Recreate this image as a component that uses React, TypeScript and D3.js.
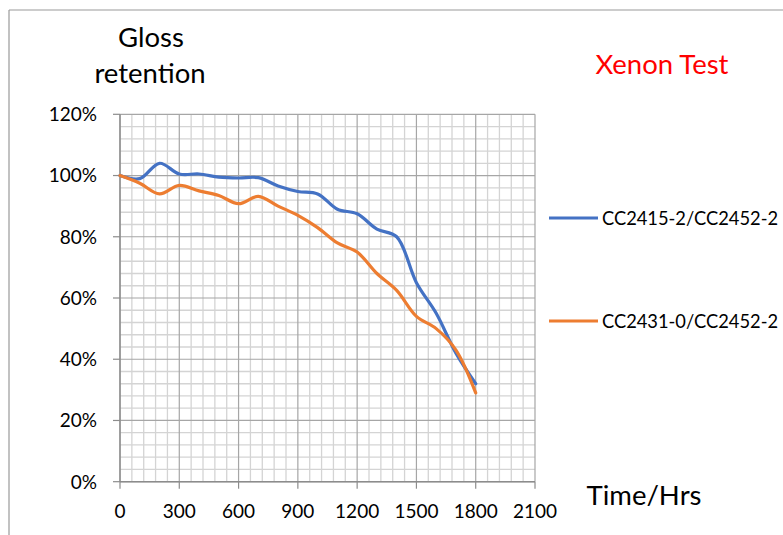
import React from "react";
import * as d3 from "d3";

const hours = [0, 100, 200, 300, 400, 500, 600, 700, 800, 900, 1000, 1100, 1200, 1300, 1400, 1500, 1600, 1700, 1800];
const seriesA = [100, 99, 104, 100.5, 100.5, 99.5, 99.2, 99.3, 96.6, 94.8, 94, 89, 87.5, 82.5, 80, 65, 55, 42, 32];
const seriesB = [100, 97.5, 94, 96.8, 95, 93.5, 90.8, 93.2, 90, 87, 83, 78, 75, 68, 62.5, 54, 50, 43, 29];
const seriesNames = ["CC2415-2/CC2452-2", "CC2431-0/CC2452-2"];
const seriesColors = ["#4472C4", "#ED7D31"];
const xTicks = [0, 300, 600, 900, 1200, 1500, 1800, 2100];
const yTicks = [0, 20, 40, 60, 80, 100, 120];

const FONT = "Lato, 'Open Sans', sans-serif";

export default function App() {
  const W = 783, H = 535;
  const x = d3.scaleLinear().domain([0, 2100]).range([120, 535]);
  const y = d3.scaleLinear().domain([0, 120]).range([481.7, 114.3]);
  const line = d3
    .line<number>()
    .x((_, i) => x(hours[i]))
    .y((d) => y(d))
    .curve(d3.curveCatmullRom.alpha(0.5));

  const minorX = d3.range(0, 2101, 60).filter((v) => v % 300 !== 0);
  const minorY = d3.range(0, 121, 4).filter((v) => v % 20 !== 0);

  return (
    <div style={{ position: "fixed", left: 0, top: 0 }}>
      <svg width={W} height={H} style={{ display: "block", background: "#fff" }}>
        <line x1={9} y1={10} x2={W} y2={10} stroke="#999" strokeWidth={1.2} />
        <line x1={9} y1={10} x2={9} y2={H} stroke="#999" strokeWidth={1.2} />

        {minorX.map((v) => (
          <line key={"mx" + v} x1={x(v)} x2={x(v)} y1={y(120)} y2={y(0)} stroke="#d4d4d4" strokeWidth={1.3} />
        ))}
        {minorY.map((v) => (
          <line key={"my" + v} x1={x(0)} x2={x(2100)} y1={y(v)} y2={y(v)} stroke="#d4d4d4" strokeWidth={1.3} />
        ))}
        {xTicks.map((v) => (
          <line key={"Mx" + v} x1={x(v)} x2={x(v)} y1={y(120)} y2={y(0)} stroke="#a6a6a6" strokeWidth={1.2} />
        ))}
        {yTicks.map((v) => (
          <line key={"My" + v} x1={x(0)} x2={x(2100)} y1={y(v)} y2={y(v)} stroke="#a6a6a6" strokeWidth={1.2} />
        ))}
        <line x1={x(0)} x2={x(2100)} y1={y(0)} y2={y(0)} stroke="#8c8c8c" strokeWidth={1.4} />
        <line x1={x(0)} x2={x(0)} y1={y(120)} y2={y(0)} stroke="#8c8c8c" strokeWidth={1.4} />

        {yTicks.map((v) => (
          <g key={"yt" + v}>
            <line x1={x(0) - 7} x2={x(0)} y1={y(v)} y2={y(v)} stroke="#8c8c8c" strokeWidth={1.2} />
            <text x={97} y={y(v)} dy="0.36em" textAnchor="end" fontFamily={FONT} fontSize={19} fill="#000">
              {v}%
            </text>
          </g>
        ))}
        {xTicks.map((v) => (
          <g key={"xt" + v}>
            <line x1={x(v)} x2={x(v)} y1={y(0)} y2={y(0) + 7} stroke="#8c8c8c" strokeWidth={1.2} />
            <text x={x(v)} y={518} textAnchor="middle" fontFamily={FONT} fontSize={19} fill="#000">
              {v}
            </text>
          </g>
        ))}

        {[seriesA, seriesB].map((s, i) => (
          <path key={"s" + i} d={line(s) || ""} fill="none" stroke={seriesColors[i]} strokeWidth={3.2} strokeLinejoin="round" strokeLinecap="round" />
        ))}

        {seriesNames.map((n, i) => (
          <g key={"lg" + i}>
            <line x1={549} x2={598} y1={i === 0 ? 218 : 321} y2={i === 0 ? 218 : 321} stroke={seriesColors[i]} strokeWidth={3} />
            <text x={602} y={i === 0 ? 218 : 321} dy="0.36em" fontFamily={FONT} fontSize={18.3} fill="#000">
              {n}
            </text>
          </g>
        ))}

        <text x={151} y={47} textAnchor="middle" fontFamily={FONT} fontSize={27.5} fill="#000">Gloss</text>
        <text x={150} y={83} textAnchor="middle" fontFamily={FONT} fontSize={27.5} fill="#000">retention</text>
        <text x={662} y={74} textAnchor="middle" fontFamily={FONT} fontSize={27.5} fill="#ff0000">Xenon Test</text>
        <text x={644} y={505} textAnchor="middle" fontFamily={FONT} fontSize={27.5} fill="#000">Time/Hrs</text>
      </svg>
    </div>
  );
}
